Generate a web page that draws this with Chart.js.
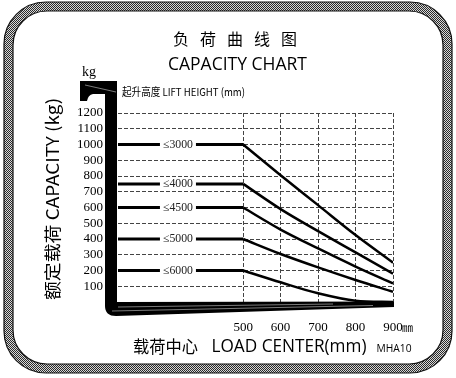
<!DOCTYPE html>
<html>
<head>
<meta charset="utf-8">
<script src="https://cdn.jsdelivr.net/npm/chart.js@4.4.1/dist/chart.umd.min.js"></script>
<style>
  html, body { margin: 0; padding: 0; background: #fff; }
  canvas { display: block; }
</style>
</head>
<body>
<canvas id="capacityChart" width="456" height="378"></canvas>
<script>
// load centre (mm) on x, rated capacity (kg) on y, one curve per lift height
const loadCenters = [500, 600, 700, 800, 900];
const liftHeights = ['≤3000', '≤4000', '≤4500', '≤5000', '≤6000'];
const cap3000 = [1000, 805, 615, 425, 250];
const cap4000 = [750, 590, 450, 315, 180];
const cap4500 = [600, 460, 340, 225, 118];
const cap5000 = [400, 305, 220, 140, 65];
const cap6000 = [200, 125, 55, 8, 0];
const capacities = [cap3000, cap4000, cap4500, cap5000, cap6000];
const xTickLabels = ['500', '600', '700', '800', '900'];

const X_MIN = 166;   // left edge of the grid (behind the mast)
const X_MAX = 900;
const LABEL_AT = 326; // where the lift height text sits on the flat part

const SERIF = '"Liberation Serif", "DejaVu Serif", serif';
const CJK = '"Noto Sans CJK SC", "Noto Sans", sans-serif';
const SANS = '"Open Sans", "Noto Sans", sans-serif';

const datasets = [];
capacities.forEach(function(cap, i) {
    // flat part up to 500 mm
    datasets.push({
        label: liftHeights[i],
        data: [{ x: X_MIN, y: cap[0] }, { x: loadCenters[0], y: cap[0] }],
        borderColor: '#000',
        borderWidth: 3,
        pointRadius: 0,
        tension: 0
    });
    // derating curve
    datasets.push({
        label: liftHeights[i] + ' curve',
        data: loadCenters.map((lc, j) => ({ x: lc, y: cap[j] })),
        borderColor: '#000',
        borderWidth: 2.5,
        pointRadius: 0,
        cubicInterpolationMode: 'monotone'
    });
});

function fitText(ctx, str, cx, cy, font, width) {
    ctx.font = font;
    const w = ctx.measureText(str).width;
    ctx.save();
    ctx.translate(cx, cy);
    ctx.scale(width / w, 1);
    ctx.textAlign = 'center';
    ctx.textBaseline = 'middle';
    ctx.fillText(str, 0, 0);
    ctx.restore();
}

function roundRectPath(ctx, x, y, w, h, r) {
    ctx.beginPath();
    ctx.moveTo(x + r, y);
    ctx.arcTo(x + w, y, x + w, y + h, r);
    ctx.arcTo(x + w, y + h, x, y + h, r);
    ctx.arcTo(x, y + h, x, y, r);
    ctx.arcTo(x, y, x + w, y, r);
    ctx.closePath();
}

const decor = {
    id: 'decor',
    beforeDraw(chart) {
        const ctx = chart.ctx;
        ctx.save();
        ctx.fillStyle = '#fff';
        ctx.fillRect(0, 0, chart.width, chart.height);

        // hatched frame
        const pc = document.createElement('canvas');
        pc.width = 2; pc.height = 2;
        const p = pc.getContext('2d');
        p.fillStyle = '#d8d8d8'; p.fillRect(0, 0, 2, 2);
        p.fillStyle = '#2a2a2a'; p.fillRect(0, 0, 1, 1); p.fillRect(1, 1, 1, 1);
        roundRectPath(ctx, 8.5, 6.5, 439, 362, 38);
        ctx.lineWidth = 9;
        ctx.strokeStyle = ctx.createPattern(pc, 'repeat');
        ctx.stroke();
        ctx.lineWidth = 1.2;
        ctx.strokeStyle = '#111';
        roundRectPath(ctx, 4, 2, 448, 371, 42);
        ctx.stroke();
        roundRectPath(ctx, 13, 11, 430, 353, 34);
        ctx.stroke();

        ctx.fillStyle = '#000';
        ctx.textAlign = 'center';
        ctx.textBaseline = 'middle';
        ctx.font = '16px ' + CJK;
        ['负', '荷', '曲', '线', '图'].forEach((c, i) => ctx.fillText(c, 181 + i * 27, 39));
        fitText(ctx, 'CAPACITY CHART', 237.5, 65, '19px ' + SANS, 139);
        ctx.font = '14px ' + SERIF;
        ctx.fillText('kg', 89, 72);
        fitText(ctx, '起升高度 LIFT HEIGHT (mm)', 183.5, 92, '11px ' + CJK, 123);

        // y title
        ctx.save();
        ctx.translate(53, 199);
        ctx.rotate(-Math.PI / 2);
        fitText(ctx, '额定载荷 CAPACITY (kg)', 0, 0, '17px ' + CJK, 202);
        ctx.restore();

        // x title
        fitText(ctx, '载荷中心', 165.5, 347, '17px ' + CJK, 65);
        fitText(ctx, 'LOAD CENTER(mm)', 289, 347, '19px ' + SANS, 155);
        fitText(ctx, 'MHA10', 394, 349, '11px ' + SANS, 35);
        ctx.font = '11px ' + CJK;
        ctx.textAlign = 'left';
        ctx.fillText('㎜', 402, 328);
        ctx.restore();
    },
    afterDatasetsDraw(chart) {
        const ctx = chart.ctx;
        const xs = chart.scales.x, ys = chart.scales.y;
        const bottom = ys.getPixelForValue(0);
        const right = xs.getPixelForValue(X_MAX);
        ctx.save();

        // lift height labels breaking the flat lines
        const lx = xs.getPixelForValue(LABEL_AT);
        capacities.forEach(function(cap, i) {
            const y = ys.getPixelForValue(cap[0]);
            ctx.fillStyle = '#fff';
            ctx.fillRect(lx - 18, y - 5, 36, 10);
            ctx.fillStyle = '#222';
            fitText(ctx, liftHeights[i], lx, y, '12px ' + SERIF, 30);
        });

        // mast and forks
        ctx.fillStyle = '#000';
        ctx.beginPath();
        ctx.moveTo(80, 81);
        ctx.lineTo(117, 81);
        ctx.lineTo(117, bottom);
        ctx.lineTo(right + 1, bottom - 0.5);
        ctx.lineTo(right + 1, bottom + 5);
        ctx.lineTo(116, bottom + 14);
        ctx.quadraticCurveTo(105, bottom + 14, 105, bottom + 4);
        ctx.lineTo(105, 94);
        ctx.lineTo(93, 94);
        ctx.quadraticCurveTo(88, 95, 87, 101);
        ctx.lineTo(80, 101);
        ctx.closePath();
        ctx.fill();

        ctx.strokeStyle = '#999';
        ctx.lineWidth = 0.8;
        ctx.beginPath();
        ctx.moveTo(85, 85);
        ctx.lineTo(116, 92);
        ctx.moveTo(112, bottom + 9);
        ctx.lineTo(right - 20, bottom + 3.5);
        ctx.moveTo(118, bottom + 5);
        ctx.lineTo(right - 60, bottom + 2);
        ctx.stroke();
        ctx.restore();
    }
};

new Chart(document.getElementById('capacityChart'), {
    type: 'line',
    data: { datasets: datasets },
    plugins: [decor],
    options: {
        responsive: false,
        animation: false,
        devicePixelRatio: 1,
        layout: { padding: { top: 113, right: 63, bottom: 0, left: 0 } },
        plugins: {
            legend: { display: false },
            tooltip: { enabled: false }
        },
        scales: {
            x: {
                type: 'linear',
                min: X_MIN,
                max: X_MAX,
                afterFit: s => { s.height = 76; },
                afterBuildTicks: s => { s.ticks = loadCenters.map(v => ({ value: v })); },
                grid: { color: '#444', lineWidth: 1, drawTicks: false },
                border: { display: false, dash: [4, 2] },
                ticks: {
                    color: '#000',
                    padding: 18,
                    maxRotation: 0,
                    autoSkip: false,
                    font: { family: SERIF, size: 13 },
                    callback: (v, i) => xTickLabels[i]
                }
            },
            y: {
                min: 0,
                max: 1200,
                afterFit: s => { s.width = 118; },
                grid: { color: '#444', lineWidth: 1, drawTicks: false },
                border: { display: false, dash: [4, 2] },
                ticks: {
                    stepSize: 100,
                    color: '#000',
                    padding: 15,
                    autoSkip: false,
                    font: { family: SERIF, size: 13 },
                    callback: v => (v === 0 ? '' : String(v))
                }
            }
        }
    }
});
</script>
</body>
</html>
